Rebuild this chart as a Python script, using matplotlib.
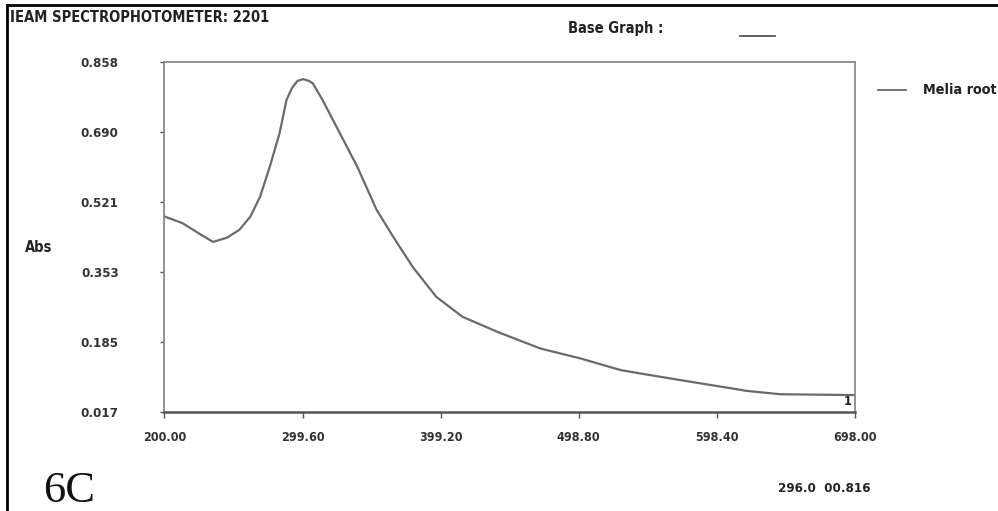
import matplotlib
matplotlib.use('Agg')
import matplotlib.pyplot as plt
from matplotlib.lines import Line2D

# spectrum (wavelength nm, absorbance)
wavelength = [200, 213, 225, 235, 245, 254, 262, 269, 276, 283, 288, 292, 296, 300,
              304, 307, 314, 324, 339, 353, 365, 379, 396, 415, 440, 471, 500, 529,
              543, 572, 598, 620, 644, 670, 698]
absorbance = [0.486, 0.470, 0.445, 0.425, 0.435, 0.454, 0.486, 0.534, 0.606, 0.686,
              0.766, 0.795, 0.812, 0.816, 0.812, 0.806, 0.766, 0.702, 0.606, 0.502,
              0.437, 0.365, 0.293, 0.245, 0.209, 0.169, 0.145, 0.117, 0.109, 0.093,
              0.079, 0.067, 0.059, 0.058, 0.057]

x_ticks = [200.00, 299.60, 399.20, 498.80, 598.40, 698.00]
y_ticks = [0.017, 0.185, 0.353, 0.521, 0.690, 0.858]
series_name = "Melia root"

plt.rcParams['font.family'] = ['DejaVu Sans']
plt.rcParams['font.stretch'] = 'condensed'
plt.rcParams['font.weight'] = 'bold'

fig = plt.figure(figsize=(9.98, 5.11), dpi=100)
ax = fig.add_axes([0.1648, 0.1943, 0.6919, 0.685])

ax.plot(wavelength, absorbance, color='#6a6a6a', lw=1.6)
ax.set_xlim(200, 698)
ax.set_ylim(0.017, 0.858)

ax.set_xticks(x_ticks)
ax.set_xticklabels(["%.2f" % v for v in x_ticks], fontsize=9, color='#333333')
ax.set_yticks(y_ticks)
ax.set_yticklabels(["%.3f" % v for v in y_ticks], fontsize=9.5, color='#333333')
ax.tick_params(axis='x', length=4, width=1, color='#555555', pad=10)
ax.tick_params(axis='y', length=3, width=1, color='#555555', pad=30)

for side in ['top', 'right', 'left']:
    ax.spines[side].set_color('#8a8a8a')
    ax.spines[side].set_linewidth(1.3)
ax.spines['bottom'].set_color('#555555')
ax.spines['bottom'].set_linewidth(1.8)

ax.text(0.995, 0.012, "1", transform=ax.transAxes, ha='right', va='bottom',
        fontsize=9, color='#222222')

# header / footer text
fig.text(10 / 998, 1 - 18 / 511, "IEAM SPECTROPHOTOMETER: 2201", ha='left', va='center',
         fontsize=10.5, color='#222222')
fig.text(568 / 998, 1 - 29 / 511, "Base Graph :", ha='left', va='center',
         fontsize=10.5, color='#222222')
fig.add_artist(Line2D([740 / 998, 775 / 998], [1 - 36 / 511, 1 - 36 / 511],
                      color='#555555', lw=1.3))
fig.add_artist(Line2D([878 / 998, 906 / 998], [1 - 90 / 511, 1 - 90 / 511],
                      color='#6a6a6a', lw=1.3))
fig.text(923 / 998, 1 - 90 / 511, series_name, ha='left', va='center',
         fontsize=10.3, color='#222222')
fig.text(25 / 998, 1 - 247 / 511, "Abs", ha='left', va='center',
         fontsize=10.5, color='#222222')
fig.text(870 / 998, 1 - 488 / 511, "296.0  00.816", ha='right', va='center',
         fontsize=9.5, color='#222222')
fig.text(43 / 998, 1 - 491 / 511, "6C", ha='left', va='center', fontweight='normal',
         fontsize=32, family=['Liberation Serif', 'DejaVu Serif'], color='#111111')

# frame lines on the left and top of the scan
fig.add_artist(Line2D([7 / 998, 7 / 998], [0, 1 - 5 / 511], color='black', lw=2))
fig.add_artist(Line2D([7 / 998, 1], [1 - 5 / 511, 1 - 5 / 511], color='black', lw=2))

fig.savefig('out.png', dpi=100, facecolor='white')
